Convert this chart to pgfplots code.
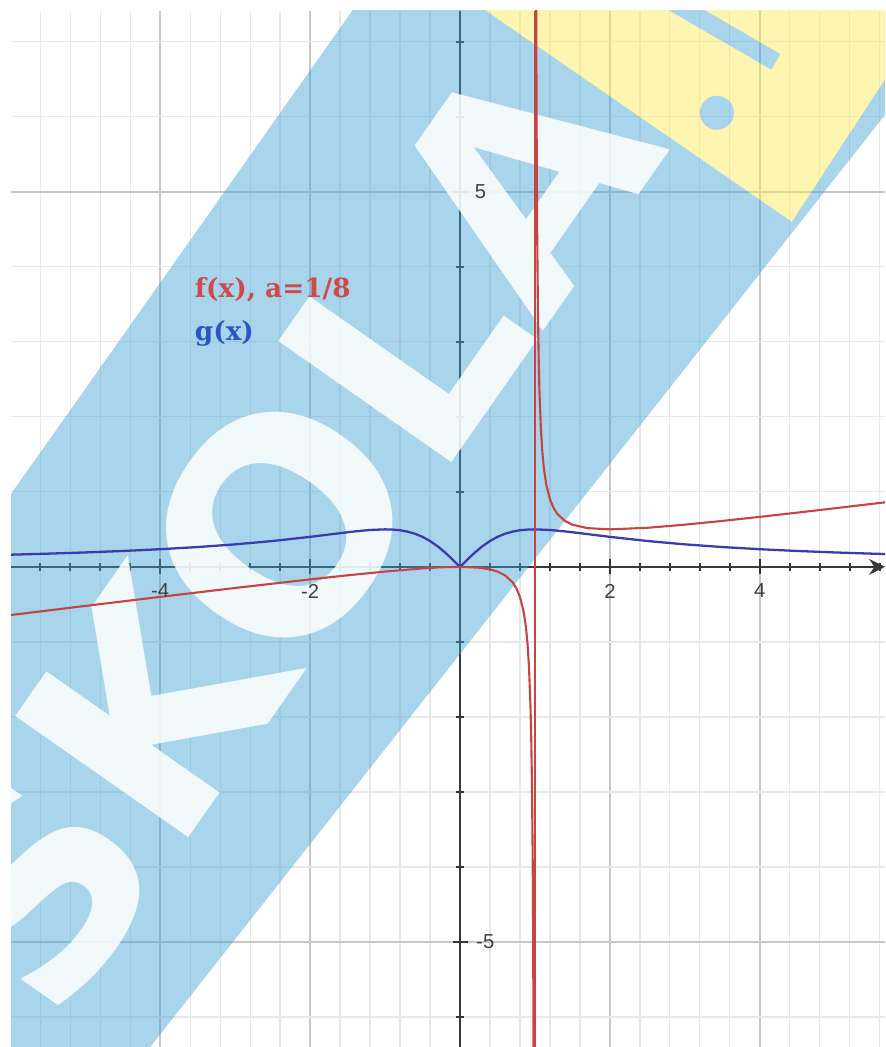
\documentclass[border=0pt]{standalone}
\usepackage{fontspec}
\usepackage{pgfplots}
\pgfplotsset{compat=1.18}
\usetikzlibrary{arrows.meta}
\setmainfont{Liberation Sans}
\newfontfamily\lblfont{DejaVu Serif}
\newfontfamily\wmfont{DejaVu Sans}

\definecolor{fred}{HTML}{C74440}
\definecolor{gblue}{HTML}{3B3BB0}
\definecolor{lblred}{HTML}{CF4B4B}
\definecolor{lblblue}{HTML}{2A55C8}
\definecolor{band}{RGB}{62,160,213}
\definecolor{yel}{RGB}{251,233,80}

\begin{document}
\begin{tikzpicture}
\useasboundingbox (-0.22,0) rectangle (17.48,20.94);
\begin{axis}[
  at={(0,0)}, anchor=south west,
  width=17.48cm, height=20.72cm, scale only axis,
  xmin=-5.99, xmax=5.67, ymin=-6.4, ymax=7.41,
  axis lines=middle,
  axis line style={black!78, line width=1.4pt, -},
  x axis line style={-{Stealth[length=9pt,width=9pt]}},
  xtick={-4,-2,2,4},
  xticklabels={{},{},2,4},
  minor xtick={-5.6,-5.2,...,5.65},
  ytick={-5,5},
  yticklabels={-5,{}},
  minor ytick={-6,-5,...,7},
  grid=both,
  major grid style={black!22, line width=0.9pt},
  minor grid style={black!9, line width=0.7pt},
  tick style={black!80, line width=1.1pt},
  major tick length=0.3cm, minor tick length=0.17cm,
  tick align=center,
  /pgf/number format/assume math mode=true,
  ticklabel style={font=\fontsize{11.5}{13}\selectfont, text=black!75},
  xticklabel style={anchor=north, yshift=-2pt},
  yticklabel style={anchor=west, xshift=10pt},
]
  % watermark band (blue) with its yellow end
  \fill[band, fill opacity=0.45, even odd rule]
    (-1.3333,7.56) -- (6.88,7.56) -- (-4.1333,-6.4) -- (-11.2,-6.4) -- cycle
    (0.1333,7.56) -- (4.4267,4.6) -- (5.6667,6.4933) -- (5.6667,7.56) -- cycle;
  \fill[yel, fill opacity=0.45, even odd rule]
    (0.1333,7.56) -- (4.4267,4.6) -- (5.6667,6.4933) -- (5.6667,7.56) -- cycle
    (3.4267,6.0533) circle[radius=0.34cm]
    (2.7267,7.7307) -- (4.2733,6.8373) -- (4.1533,6.6293) -- (2.6067,7.5227) -- cycle;
  \begin{scope}
    \clip (0.1333,7.56) -- (4.4267,4.6) -- (5.6667,6.4933) -- (5.6667,7.56) -- cycle;
    \fill[band, fill opacity=0.45]
      (3.4267,6.0533) circle[radius=0.34cm]
      (2.7267,7.7307) -- (4.2733,6.8373) -- (4.1533,6.6293) -- (2.6067,7.5227) -- cycle;
  \end{scope}
  \begin{scope}
    \clip (-1.3333,7.56) -- (0.1333,7.56) -- (4.4267,4.6) -- (6.2,4.6) -- (-4.1333,-6.4) -- (-11.2,-6.4) -- cycle;
    \node[rotate=55, text=white, text opacity=0.85, inner sep=0pt,
      font=\wmfont\bfseries\fontsize{165}{165}\selectfont] at (-2.45,0.50) {SKOLA};
  \end{scope}
  % g(x)
  \addplot[gblue, line width=1.3pt] coordinates {
    (-6,0.1622) (-5.5,0.1760) (-5,0.1923) (-4.5,0.2118) (-4,0.2353)
    (-3.5,0.2642) (-3,0.3000) (-2.5,0.3448) (-2,0.4000) (-1.8,0.4245)
    (-1.6,0.4494) (-1.4,0.4730) (-1.2,0.4918) (-1,0.5000) (-0.9,0.4972)
    (-0.8,0.4878) (-0.7,0.4698) (-0.6,0.4412) (-0.5,0.4000) (-0.4,0.3448)
    (-0.3,0.2752) (-0.2,0.1923) (-0.1,0.0990) (0,0)
    (0.1,0.0990) (0.2,0.1923) (0.3,0.2752) (0.4,0.3448) (0.5,0.4000)
    (0.6,0.4412) (0.7,0.4698) (0.8,0.4878) (0.9,0.4972) (1,0.5000)
    (1.2,0.4918) (1.4,0.4730) (1.6,0.4494) (1.8,0.4245) (2,0.4000)
    (2.5,0.3448) (3,0.3000) (3.5,0.2642) (4,0.2353) (4.5,0.2118)
    (5,0.1923) (5.5,0.1760) (6,0.1622)
  };
  % asymptote x = 1
  \addplot[fred, line width=1.1pt] coordinates {(1,-6.4) (1,7.41)};
  % f(x), left branch
  \addplot[fred, line width=1.2pt] coordinates {
    (-6,-0.6429) (-5,-0.5208) (-4,-0.4000) (-3,-0.2813) (-2,-0.1667)
    (-1.5,-0.1125) (-1,-0.0625) (-0.5,-0.0208) (-0.25,-0.0050) (0,0)
    (0.25,-0.0104) (0.4,-0.0333) (0.5,-0.0625) (0.6,-0.1125) (0.7,-0.2042)
    (0.75,-0.2813) (0.8,-0.4000) (0.85,-0.6021) (0.88,-0.8067) (0.9,-1.0125)
    (0.92,-1.3225) (0.94,-1.8408) (0.95,-2.2563) (0.96,-2.8800) (0.97,-3.9204)
    (0.975,-4.7531) (0.98,-6.0025) (0.985,-8.085)
  };
  % f(x), right branch
  \addplot[fred, line width=1.2pt] coordinates {
    (1.015,8.585) (1.02,6.5025) (1.025,5.2531) (1.03,4.4204) (1.04,3.3800)
    (1.05,2.7563) (1.06,2.3408) (1.08,1.8225) (1.1,1.5125) (1.12,1.3067)
    (1.15,1.1021) (1.2,0.9000) (1.25,0.7813) (1.3,0.7042) (1.4,0.6125)
    (1.5,0.5625) (1.7,0.5161) (2,0.5000) (2.5,0.5208) (3,0.5625)
    (3.5,0.6125) (4,0.6667) (4.5,0.7232) (5,0.7813) (5.5,0.8403) (6,0.9000)
  };
  % tick labels that lie on the watermark, set after it so they stay readable
  \node[anchor=west, xshift=5pt, text=black!75, font=\fontsize{11.5}{13}\selectfont]
    at (axis cs:0,5) {5};
  \node[anchor=north, yshift=-6.25pt, text=black!75, font=\fontsize{11.5}{13}\selectfont]
    at (axis cs:-4,0) {-4};
  \node[anchor=north, yshift=-6.25pt, text=black!75, font=\fontsize{11.5}{13}\selectfont]
    at (axis cs:-2,0) {-2};
  \node[anchor=west, text=lblred, font=\lblfont\bfseries\fontsize{15}{18}\selectfont]
    at (axis cs:-3.62,3.69) {f(x), a=1/8};
  \node[anchor=west, text=lblblue, font=\lblfont\bfseries\fontsize{15}{18}\selectfont]
    at (axis cs:-3.62,3.11) {g(x)};
\end{axis}
\end{tikzpicture}
\end{document}
